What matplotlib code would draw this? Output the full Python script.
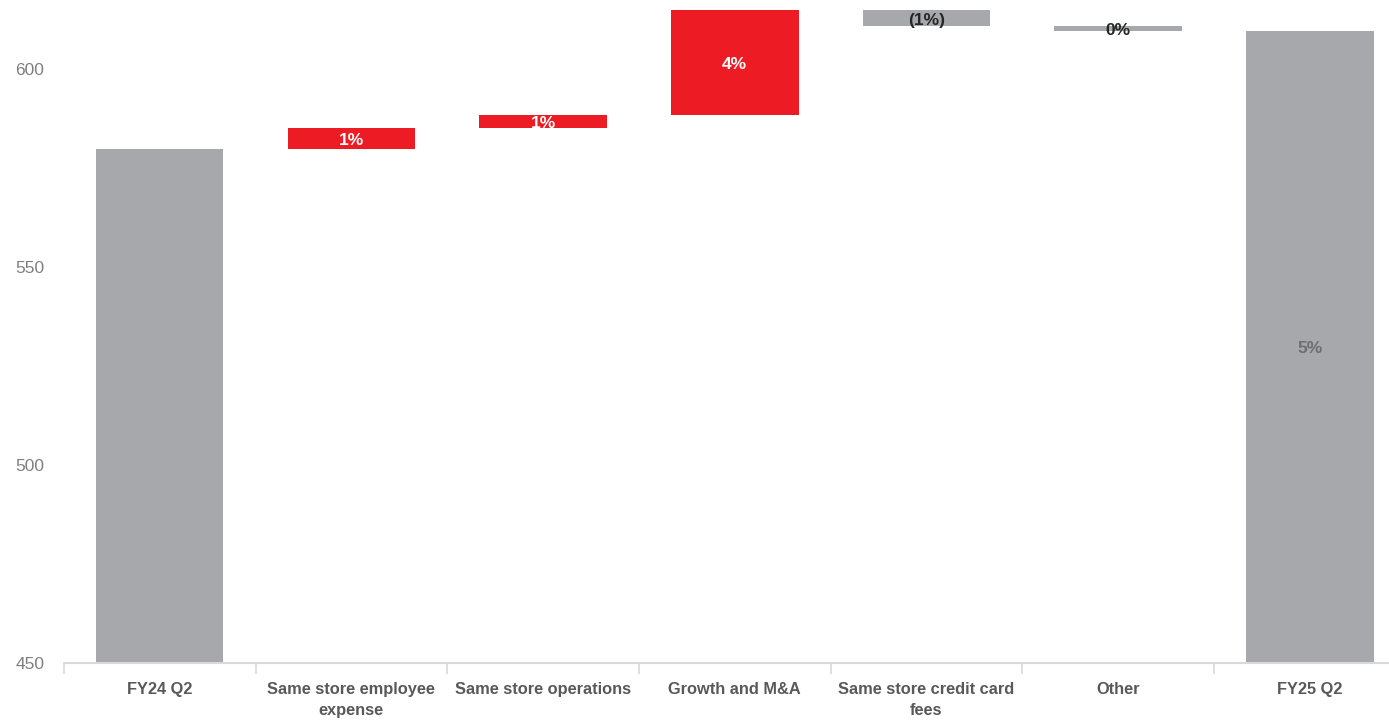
import matplotlib
matplotlib.use('Agg')
import matplotlib.pyplot as plt


# dados
categories = ['FY24 Q2', 'Same store employee\nexpense', 'Same store operations',
              'Growth and M&A', 'Same store credit card\nfees', 'Other', 'FY25 Q2']
start_value = 580.0
deltas = [5.1, 3.3, 27.5, -5.0, -1.1]
labels = ['', '1%', '1%', '4%', '(1%)', '0%', '5%']

GRAY = '#a7a8ab'
RED = '#ed1c24'
Y_MIN, Y_MAX = 450, 615


# calcula base e topo de cada barra do waterfall
def waterfall(start, changes):
    lows, highs = [0], [start]
    level = start
    for d in changes:
        new = level + d
        lows.append(min(level, new))
        highs.append(max(level, new))
        level = new
    lows.append(0)
    highs.append(level)
    return lows, highs


def main():
    plt.rcParams['font.family'] = ['Liberation Sans', 'DejaVu Sans']
    fig = plt.figure(figsize=(13.89, 7.22), dpi=100)
    ax = fig.add_axes([0.046, 0.082, 0.966, 0.904])

    lows, highs = waterfall(start_value, deltas)
    colors = [GRAY] + [RED if d > 0 else GRAY for d in deltas] + [GRAY]
    x = range(len(categories))
    ax.bar(x, [h - l for l, h in zip(lows, highs)], bottom=lows,
           width=0.665, color=colors, zorder=2)

    text_colors = ['#262626', 'white', 'white', 'white', '#262626', '#262626', '#6d6e71']
    for i, (lo, hi) in enumerate(zip(lows, highs)):
        if not labels[i]:
            continue
        mid = (max(lo, Y_MIN) + min(hi, Y_MAX)) / 2
        ax.annotate(labels[i], (i, mid), xytext=(0, -1.5), textcoords='offset points',
                    ha='center', va='center', fontsize=12.5, fontweight='bold',
                    color=text_colors[i], zorder=3)

    ax.set_ylim(Y_MIN, Y_MAX)
    ax.set_xlim(-0.5, len(categories) - 0.5)
    ax.set_yticks([450, 500, 550, 600])
    ax.tick_params(axis='y', length=0, pad=14, labelsize=12.5, labelcolor='#7f7f7f')

    ax.set_xticks(list(x))
    ax.set_xticklabels(categories, fontsize=11.8, fontweight='bold', color='#595959',
                       linespacing=1.45)
    ax.tick_params(axis='x', which='major', length=0, pad=14)
    ax.set_xticks([i - 0.5 for i in range(len(categories) + 1)], minor=True)
    ax.tick_params(axis='x', which='minor', length=8, width=1.2, color='#d9d9d9')

    for side in ['top', 'right', 'left']:
        ax.spines[side].set_visible(False)
    ax.spines['bottom'].set_color('#d9d9d9')
    ax.spines['bottom'].set_linewidth(1.5)

    fig.savefig('out.png', dpi=100)


if __name__ == '__main__':
    main()
